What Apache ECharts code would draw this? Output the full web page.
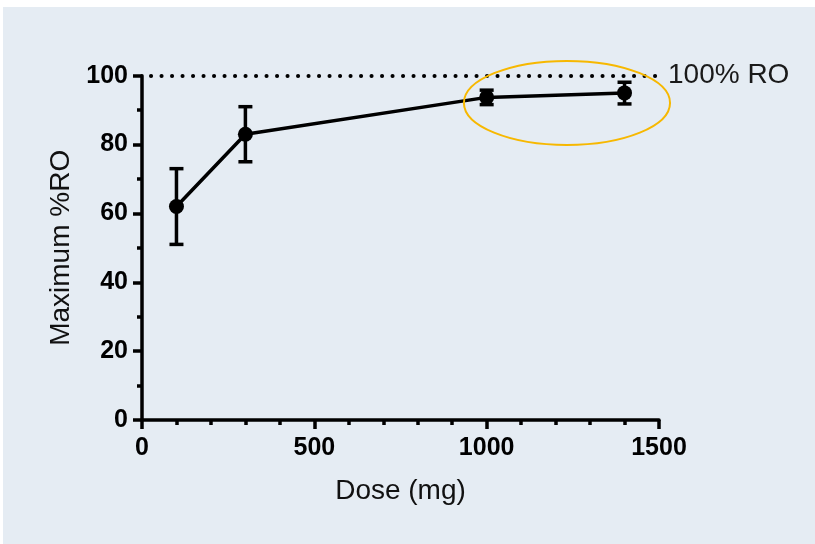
<!DOCTYPE html>
<html>
<head>
<meta charset="utf-8">
<script src="https://cdn.jsdelivr.net/npm/echarts@6/dist/echarts.min.js"></script>
<style>
  html, body { margin: 0; padding: 0; background: #ffffff; }
  #chart { width: 815px; height: 544px; }
</style>
</head>
<body>
<div id="chart"></div>
<script>
// Dose-response data: maximum receptor occupancy by dose
const doses = [100, 300, 1000, 1400];
const meanRO = [62, 83, 93.7, 95];
const errLow = [51, 75, 91.6, 91.8];
const errHigh = [73, 91, 95.8, 98.1];

const xTicks = [0, 500, 1000, 1500];
const yTicks = [0, 20, 40, 60, 80, 100];
const refLevel = 100;
const refLabel = '100% RO';

// Highlight ellipse around the high-dose plateau (data units)
const highlightCenter = [1233, 92.1];
const highlightRadius = [299, 12.2];

const FONT = '"Liberation Sans", Arial, sans-serif';
const LW = 3.5;

const chart = echarts.init(document.getElementById('chart'), null, { renderer: 'canvas' });

const errData = doses.map((d, i) => [d, errLow[i], errHigh[i]]);

const panel = {
  type: 'rect',
  shape: { x: 3, y: 7, width: 812, height: 537 },
  style: { fill: '#e5ecf3' },
  z: -10,
  silent: true
};

const option = {
  animation: false,
  backgroundColor: 'transparent',
  graphic: [panel],
  grid: { left: 142, right: 156, top: 75.7, bottom: 124 },
  xAxis: {
    type: 'value',
    min: xTicks[0],
    max: xTicks[xTicks.length - 1],
    interval: 500,
    name: 'Dose (mg)',
    nameLocation: 'middle',
    nameGap: 57,
    nameTextStyle: { fontFamily: FONT, fontSize: 28, color: '#111' },
    axisLine: { show: true, onZero: false, lineStyle: { color: '#000', width: LW } },
    axisTick: { show: true, length: 9, lineStyle: { color: '#000', width: LW } },
    minorTick: { show: true, splitNumber: 5, length: 5, lineStyle: { color: '#000', width: LW } },
    splitLine: { show: false },
    minorSplitLine: { show: false },
    axisLabel: {
      margin: 16, fontFamily: FONT, fontSize: 25, fontWeight: 'bold', color: '#000',
      formatter: v => xTicks.includes(v) ? String(v) : ''
    }
  },
  yAxis: {
    type: 'value',
    min: yTicks[0],
    max: yTicks[yTicks.length - 1],
    interval: 20,
    name: 'Maximum %RO',
    nameLocation: 'middle',
    nameGap: 67,
    nameRotate: 90,
    nameTextStyle: { fontFamily: FONT, fontSize: 28, color: '#111' },
    axisLine: { show: true, onZero: false, lineStyle: { color: '#000', width: LW } },
    axisTick: { show: true, length: 9, lineStyle: { color: '#000', width: LW } },
    minorTick: { show: true, splitNumber: 2, length: 5, lineStyle: { color: '#000', width: LW } },
    splitLine: { show: false },
    minorSplitLine: { show: false },
    axisLabel: {
      margin: 14, fontFamily: FONT, fontSize: 25, fontWeight: 'bold', color: '#000',
      formatter: v => yTicks.includes(v) ? String(v) : ''
    }
  },
  series: [
    {
      // reference level line (dotted) with its label
      type: 'line',
      data: [],
      silent: true,
      markLine: {
        silent: true,
        symbol: ['none', 'none'],
        animation: false,
        lineStyle: { color: '#000', width: 4, type: [0.1, 10.4], cap: 'round', dashOffset: -9 },
        label: {
          show: true, position: 'end', distance: 9, formatter: refLabel,
          fontFamily: FONT, fontSize: 28, color: '#1a1a1a', padding: [4, 0, 0, 0]
        },
        data: [[{ coord: [xTicks[0], refLevel] }, { coord: [xTicks[xTicks.length - 1], refLevel] }]]
      },
      z: 1
    },
    {
      // error bars with caps
      type: 'custom',
      data: errData,
      z: 3,
      renderItem: function (params, api) {
        const x = api.value(0);
        const lo = api.coord([x, api.value(1)]);
        const hi = api.coord([x, api.value(2)]);
        const half = 7;
        const style = { stroke: '#000', lineWidth: LW, fill: null };
        return {
          type: 'group',
          children: [
            { type: 'line', shape: { x1: lo[0], y1: lo[1], x2: hi[0], y2: hi[1] }, style },
            { type: 'line', shape: { x1: lo[0] - half, y1: lo[1], x2: lo[0] + half, y2: lo[1] }, style },
            { type: 'line', shape: { x1: hi[0] - half, y1: hi[1], x2: hi[0] + half, y2: hi[1] }, style }
          ]
        };
      }
    },
    {
      type: 'line',
      data: doses.map((d, i) => [d, meanRO[i]]),
      symbol: 'circle',
      symbolSize: 15,
      showAllSymbol: true,
      lineStyle: { color: '#000', width: LW },
      itemStyle: { color: '#000', borderWidth: 0 },
      z: 4
    }
  ]
};

chart.setOption(option);

// Highlight ellipse, positioned through the chart's coordinate system
const c = chart.convertToPixel({ gridIndex: 0 }, highlightCenter);
const edge = chart.convertToPixel({ gridIndex: 0 },
  [highlightCenter[0] + highlightRadius[0], highlightCenter[1] + highlightRadius[1]]);
chart.setOption({
  graphic: [
    panel,
    {
      type: 'ellipse',
      shape: { cx: c[0], cy: c[1], rx: Math.abs(edge[0] - c[0]), ry: Math.abs(c[1] - edge[1]) },
      style: { fill: null, stroke: '#f7b800', lineWidth: 2 },
      z: 10,
      silent: true
    }
  ]
});
</script>
</body>
</html>
